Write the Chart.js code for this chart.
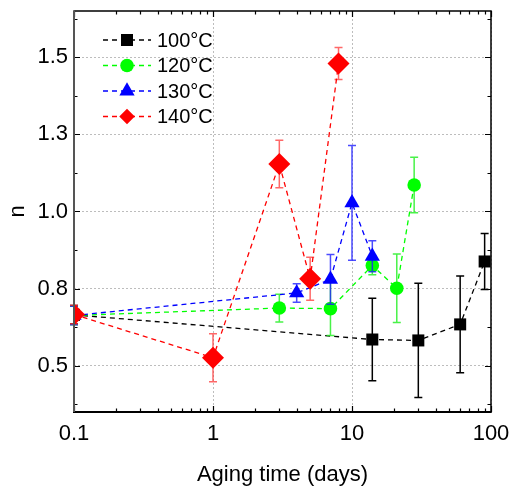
<!DOCTYPE html>
<html>
<head>
<meta charset="utf-8">
<script src="https://cdn.jsdelivr.net/npm/chart.js@4.4.0/dist/chart.umd.min.js"></script>
<style>
html,body{margin:0;padding:0;background:#fff;}
canvas{display:block;}
</style>
</head>
<body>
<canvas id="c" width="515" height="488"></canvas>
<script>
// ---- data ----
const seriesLabels = ['100°C', '120°C', '130°C', '140°C'];

const x100 = [0.1, 14, 30, 60, 90];
const y100 = [0.665, 0.585, 0.582, 0.634, 0.838];
const e100 = [0.03, 0.134, 0.185, 0.157, 0.091];

const x120 = [0.1, 3, 7, 14, 21, 28];
const y120 = [0.663, 0.687, 0.685, 0.825, 0.751, 1.086];
const e120 = [0.03, 0.045, 0.087, 0.03, 0.111, 0.09];

const x130 = [0.1, 4, 7, 10, 14];
const y130 = [0.663, 0.736, 0.780, 1.028, 0.855];
const e130 = [0.03, 0.03, 0.081, 0.186, 0.05];

const x140 = [0.1, 1, 3, 5, 8];
const y140 = [0.666, 0.526, 1.154, 0.782, 1.480];
const e140 = [0.03, 0.078, 0.077, 0.07, 0.052];

const xTickValues = [0.1, 1, 10, 100];
const xTickLabels = ['0.1', '1', '10', '100'];
const yTickValues = [0.5, 0.75, 1.0, 1.25, 1.5];
const yTickLabels = ['0.5', '0.8', '1.0', '1.3', '1.5'];
const yMinorTicks = [0.375, 0.625, 0.875, 1.125, 1.375, 1.625];

function pts(xs, ys) { return xs.map((x, i) => ({x: x, y: ys[i]})); }

const FONT = '"Liberation Sans", Arial, sans-serif';

const styles = [
  {color: '#000000', err: '#000000', pointStyle: 'rect', radius: 8.5, order: 4},
  {color: '#00ff00', err: 'rgba(40,240,40,0.85)', pointStyle: 'circle', radius: 6.8, order: 3},
  {color: '#0000ff', err: 'rgba(30,30,255,0.8)', pointStyle: 'triangle', radius: 8.8, order: 2},
  {color: '#ff0000', err: 'rgba(255,40,40,0.7)', pointStyle: 'rectRot', radius: 11, order: 1}
];
const allX = [x100, x120, x130, x140];
const allY = [y100, y120, y130, y140];
const allE = [e100, e120, e130, e140];

const datasets = seriesLabels.map((lab, i) => ({
  label: lab,
  data: pts(allX[i], allY[i]),
  errors: allE[i],
  errColor: styles[i].err,
  showLine: true,
  borderColor: styles[i].color,
  backgroundColor: styles[i].color,
  borderWidth: 1.3,
  borderDash: [5, 4],
  pointStyle: styles[i].pointStyle,
  pointRadius: styles[i].radius,
  pointHoverRadius: styles[i].radius,
  pointBackgroundColor: styles[i].color,
  pointBorderColor: styles[i].color,
  pointBorderWidth: 0,
  tension: 0,
  fill: false,
  order: styles[i].order
}));

const errorBars = {
  id: 'errorBars',
  beforeDatasetDraw(chart, args) {
    const ds = chart.data.datasets[args.index];
    const xs = chart.scales.x, ys = chart.scales.y;
    const ctx = chart.ctx;
    ctx.save();
    ctx.strokeStyle = ds.errColor;
    ctx.lineWidth = 1.5;
    ctx.setLineDash([]);
    ds.data.forEach((p, i) => {
      const e = ds.errors[i];
      const px = xs.getPixelForValue(p.x);
      const pt = ys.getPixelForValue(p.y + e);
      const pb = ys.getPixelForValue(p.y - e);
      ctx.beginPath();
      ctx.moveTo(px, pt); ctx.lineTo(px, pb);
      ctx.moveTo(px - 4, pt); ctx.lineTo(px + 4, pt);
      ctx.moveTo(px - 4, pb); ctx.lineTo(px + 4, pb);
      ctx.stroke();
    });
    ctx.restore();
  }
};

function drawMarker(ctx, style, r, x, y, color) {
  ctx.save();
  ctx.fillStyle = color;
  ctx.beginPath();
  if (style === 'rect') {
    const s = Math.SQRT1_2 * r;
    ctx.rect(x - s, y - s, 2 * s, 2 * s);
  } else if (style === 'circle') {
    ctx.arc(x, y, r, 0, Math.PI * 2);
  } else if (style === 'triangle') {
    let a = 0;
    ctx.moveTo(x + Math.sin(a) * r, y - Math.cos(a) * r);
    a += 2 * Math.PI / 3;
    ctx.lineTo(x + Math.sin(a) * r, y - Math.cos(a) * r);
    a += 2 * Math.PI / 3;
    ctx.lineTo(x + Math.sin(a) * r, y - Math.cos(a) * r);
    ctx.closePath();
  } else if (style === 'rectRot') {
    const s = Math.SQRT1_2 * r;
    ctx.moveTo(x - s, y); ctx.lineTo(x, y + s); ctx.lineTo(x + s, y); ctx.lineTo(x, y - s);
    ctx.closePath();
  }
  ctx.fill();
  ctx.restore();
}

const frameAndTicks = {
  id: 'frameAndTicks',
  afterDraw(chart) {
    const ctx = chart.ctx;
    const a = chart.chartArea;
    const xs = chart.scales.x, ys = chart.scales.y;
    ctx.save();
    ctx.setLineDash([]);
    // ticks
    ctx.strokeStyle = '#000';
    ctx.lineWidth = 1.2;
    ctx.beginPath();
    const xMinor = [];
    for (let d = 0.1; d < 100; d *= 10) {
      for (let k = 2; k <= 9; k++) xMinor.push(+(d * k).toPrecision(3));
    }
    xTickValues.forEach(v => {
      const px = Math.round(xs.getPixelForValue(v)) + 0.5;
      ctx.moveTo(px, a.bottom); ctx.lineTo(px, a.bottom - 6);
      ctx.moveTo(px, a.top); ctx.lineTo(px, a.top + 6);
    });
    xMinor.forEach(v => {
      const px = Math.round(xs.getPixelForValue(v)) + 0.5;
      ctx.moveTo(px, a.bottom); ctx.lineTo(px, a.bottom - 3.5);
      ctx.moveTo(px, a.top); ctx.lineTo(px, a.top + 3.5);
    });
    yTickValues.forEach(v => {
      const py = Math.round(ys.getPixelForValue(v)) + 0.5;
      ctx.moveTo(a.left, py); ctx.lineTo(a.left + 6, py);
      ctx.moveTo(a.right, py); ctx.lineTo(a.right - 6, py);
    });
    yMinorTicks.forEach(v => {
      const py = Math.round(ys.getPixelForValue(v)) + 0.5;
      ctx.moveTo(a.left, py); ctx.lineTo(a.left + 3.5, py);
      ctx.moveTo(a.right, py); ctx.lineTo(a.right - 3.5, py);
    });
    ctx.stroke();
    // frame
    ctx.lineWidth = 1.5;
    ctx.strokeStyle = '#000';
    ctx.beginPath();
    ctx.moveTo(a.left, a.top); ctx.lineTo(a.right, a.top); ctx.lineTo(a.right, a.bottom);
    ctx.stroke();
    ctx.lineWidth = 2;
    ctx.beginPath();
    ctx.moveTo(a.left - 1, a.bottom); ctx.lineTo(a.right + 0.75, a.bottom);
    ctx.stroke();
    ctx.strokeStyle = '#555';
    ctx.beginPath();
    ctx.moveTo(a.left, a.top - 0.75); ctx.lineTo(a.left, a.bottom);
    ctx.stroke();

    // legend
    const lx0 = 103, lx1 = 151, tx = 157;
    const rowY = [40, 65.5, 91, 116.5];
    chart.data.datasets.forEach((ds, i) => {
      const y = rowY[i];
      ctx.save();
      ctx.strokeStyle = ds.borderColor;
      ctx.lineWidth = 1.3;
      ctx.setLineDash([5, 4]);
      ctx.beginPath();
      ctx.moveTo(lx0, y); ctx.lineTo(lx1, y);
      ctx.stroke();
      ctx.restore();
      drawMarker(ctx, ds.pointStyle, ds.pointRadius, (lx0 + lx1) / 2, y, ds.pointBackgroundColor);
      ctx.fillStyle = '#000';
      ctx.font = '20px ' + FONT;
      ctx.textBaseline = 'middle';
      ctx.textAlign = 'left';
      ctx.fillText(ds.label, tx, y + 1);
    });
    ctx.restore();
  }
};

new Chart(document.getElementById('c'), {
  type: 'scatter',
  data: {datasets: datasets},
  plugins: [errorBars, frameAndTicks],
  options: {
    responsive: false,
    animation: false,
    events: [],
    layout: {padding: {left: 0, right: 24, top: 10, bottom: 0}},
    plugins: {legend: {display: false}, tooltip: {enabled: false}},
    scales: {
      x: {
        type: 'logarithmic',
        min: 0.1,
        max: 100,
        afterBuildTicks(scale) { scale.ticks = xTickValues.map(v => ({value: v})); },
        afterFit(scale) { scale.height = 76; scale.paddingLeft = 0; scale.paddingRight = 0; },
        border: {display: false, dash: [2, 2]},
        grid: {color: '#bdbdbd', lineWidth: 1, drawTicks: false},
        ticks: {
          color: '#000', padding: 9, maxRotation: 0, autoSkip: false,
          font: {family: FONT, size: 22},
          callback(v, i) { return xTickLabels[i]; }
        },
        title: {display: true, text: 'Aging time (days)', color: '#000', font: {family: FONT, size: 22}, padding: {top: 6, bottom: 0}}
      },
      y: {
        type: 'linear',
        min: 0.35,
        max: 1.65,
        afterBuildTicks(scale) { scale.ticks = yTickValues.map(v => ({value: v})); },
        afterFit(scale) { scale.width = 74; scale.paddingTop = 0; scale.paddingBottom = 0; },
        border: {display: false, dash: [2, 2]},
        grid: {color: '#bdbdbd', lineWidth: 1, drawTicks: false},
        ticks: {
          color: '#000', padding: 6, autoSkip: false,
          font: {family: FONT, size: 22},
          callback(v, i) { return yTickLabels[i]; }
        },
        title: {display: true, text: 'n', color: '#000', font: {family: FONT, size: 22}, padding: {top: 5, bottom: 0}}
      }
    }
  }
});
</script>
</body>
</html>
